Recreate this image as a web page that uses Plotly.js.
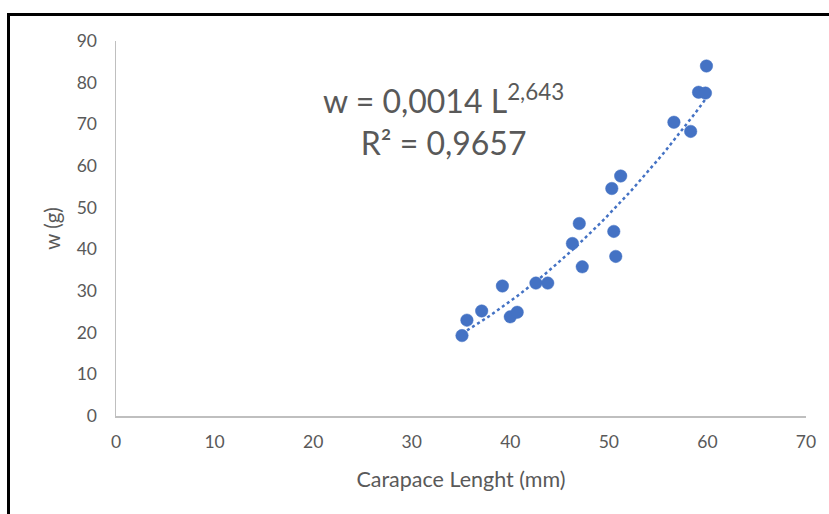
<!DOCTYPE html>
<html>
<head>
<meta charset="utf-8">
<script src="https://cdn.plot.ly/plotly-3.0.1.min.js"></script>
<style>
  html, body { margin: 0; padding: 0; background: #fff; }
  #wrap { position: relative; width: 829px; height: 514px; overflow: hidden; }
  #chart { width: 829px; height: 514px; }
  #frame { position: absolute; left: 7px; top: 13px; width: 900px; height: 600px;
           border-top: 3px solid #000; border-left: 3px solid #000; pointer-events: none; }
</style>
</head>
<body>
<div id="wrap">
  <div id="chart"></div>
  <div id="frame"></div>
</div>
<script>
// Carapace length (mm)
const carapaceLength = [35.1, 35.6, 37.1, 39.2, 40.0, 40.7, 42.6, 43.8, 46.3, 47.0, 47.3,
                        50.3, 50.5, 50.7, 51.2, 56.6, 58.3, 59.1, 59.8, 59.9];
// Weight w (g)
const weight = [19.3, 23.0, 25.2, 31.2, 23.8, 24.9, 31.9, 31.9, 41.4, 46.2, 35.8,
                54.6, 44.3, 38.3, 57.6, 70.5, 68.3, 77.7, 77.5, 84.0];
const xTicks = [0, 10, 20, 30, 40, 50, 60, 70];
const yTicks = [0, 10, 20, 30, 40, 50, 60, 70, 80, 90];
const equationText = 'w = 0,0014 L<sup>2,643</sup><br>R² = 0,9657';
const xTitle = 'Carapace Lenght (mm)';
const yTitle = 'w (g)';

// Power trendline fitted (least squares in log-log space), as Excel does
const lx = carapaceLength.map(Math.log), ly = weight.map(Math.log);
const n = lx.length;
const mx = lx.reduce((a, b) => a + b, 0) / n, my = ly.reduce((a, b) => a + b, 0) / n;
let sxy = 0, sxx = 0;
for (let i = 0; i < n; i++) { sxy += (lx[i] - mx) * (ly[i] - my); sxx += (lx[i] - mx) ** 2; }
const bExp = sxy / sxx, aCoef = Math.exp(my - bExp * mx);
const xmin = Math.min(...carapaceLength), xmax = Math.max(...carapaceLength);
const trendX = [], trendY = [];
for (let i = 0; i <= 60; i++) {
  const x = xmin + (xmax - xmin) * i / 60;
  trendX.push(x); trendY.push(aCoef * Math.pow(x, bExp));
}

const blue = '#4472C4';
const grey = '#595959';
const font = 'Lato, "Open Sans", sans-serif';

const traces = [
  { x: trendX, y: trendY, mode: 'lines', type: 'scatter',
    line: { color: blue, width: 2.5, dash: 'dot' }, hoverinfo: 'skip' },
  { x: carapaceLength, y: weight, mode: 'markers', type: 'scatter',
    marker: { color: blue, size: 12.5, line: { color: blue, width: 0.5 } } }
];

const layout = {
  width: 829, height: 514,
  margin: { l: 116, r: 23, t: 41, b: 98 },
  paper_bgcolor: '#fff', plot_bgcolor: '#fff',
  showlegend: false,
  font: { family: font, color: grey, size: 17 },
  xaxis: {
    range: [0, 70], tickvals: xTicks, ticktext: xTicks.map(String),
    showgrid: false, zeroline: false, showline: true, linecolor: '#bfbfbf', linewidth: 1.5,
    ticks: 'outside', ticklen: 9, tickcolor: 'rgba(0,0,0,0)',
    tickfont: { family: font, size: 17.5, color: grey },
    title: { text: xTitle, font: { family: font, size: 21.5, color: grey }, standoff: 21 }
  },
  yaxis: {
    range: [0, 90], tickvals: yTicks, ticktext: yTicks.map(String),
    showgrid: false, zeroline: false, showline: true, linecolor: '#bfbfbf', linewidth: 1.5,
    ticks: 'outside', ticklen: 14, tickcolor: 'rgba(0,0,0,0)',
    tickfont: { family: font, size: 17.5, color: grey },
    title: { text: yTitle, font: { family: font, size: 20.5, color: grey }, standoff: 10 }
  },
  annotations: [{
    x: 33.2, y: 71, xref: 'x', yref: 'y', xanchor: 'center', yanchor: 'middle',
    text: equationText, showarrow: false, align: 'center',
    font: { family: font, size: 32, color: grey }
  }]
};

Plotly.newPlot('chart', traces, layout, { staticPlot: true, displayModeBar: false });
</script>
</body>
</html>
